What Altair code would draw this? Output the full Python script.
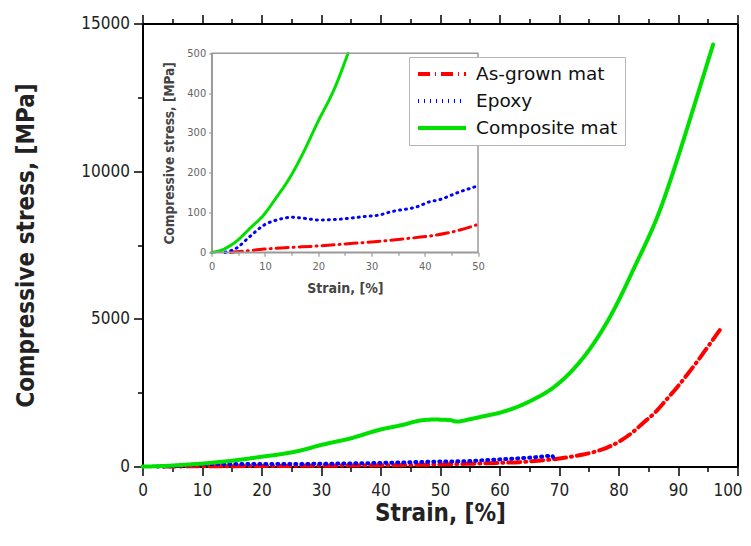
import altair as alt
import pandas as pd

FONT = "DejaVu Sans Condensed"
LFONT = "DejaVu Sans"

series_names = ["As-grown mat", "Epoxy", "Composite mat"]
series_colors = ["#ff0000", "#0000ff", "#00e000"]
series_dash = [[12, 5, 1, 5], [1, 5], [1, 0]]

asgrown_strain = [3.5, 5.3, 9.9, 14.6, 20.1, 25.1, 30.0, 36.2, 41.0, 46.6, 50.0, 54.5,
                  60.0, 63.4, 67.4, 69.0, 72.0, 74.1, 76.0, 78.0, 80.0, 82.5, 84.0,
                  86.1, 88.0, 90.0, 91.5, 93.1, 95.0, 97.3]
asgrown_stress = [0, 2, 8, 12, 16, 21, 26, 34, 41, 56, 70, 90,
                  125, 147, 214, 240, 330, 406, 500, 633, 830, 1180, 1450,
                  1820, 2250, 2720, 3100, 3520, 4050, 4700]

epoxy_strain = [2.5, 4.6, 7.1, 9.9, 12.7, 14.9, 17.6, 20.1, 23.8, 28.8, 31.6, 33.7,
                38.7, 40.9, 42.4, 46.6, 50.0, 54.5, 58.0, 61.8, 65.0, 67.9, 68.8, 69.2]
epoxy_stress = [0, 10, 39, 69, 83, 88, 85, 81, 83, 90, 94, 102,
                115, 127, 131, 152, 167, 180, 220, 260, 300, 350, 372, 200]

composite_strain = [0, 2.0, 3.0, 4.6, 7.0, 9.9, 12.0, 14.6, 17.0, 19.8, 23.2, 25.6,
                    30.4, 34.9, 40.0, 43.3, 47.2, 48.9, 51.7, 52.8, 55.0, 57.3, 60.0,
                    61.8, 65.7, 69.0, 72.4, 75.5, 79.1, 82.5, 87.0, 90.2, 93.0, 95.9]
composite_stress = [0, 6, 13, 27, 58, 96, 135, 186, 245, 324, 416, 500,
                    745, 950, 1250, 1390, 1570, 1590, 1570, 1520, 1600, 1700, 1820,
                    1930, 2270, 2665, 3290, 4070, 5260, 6670, 8700, 10600, 12400, 14290]

x_major = list(range(0, 101, 10))
x_minor = list(range(5, 100, 10))
y_major = [0, 5000, 10000, 15000]
y_minor = [2500, 7500, 12500]
inset_x_major = [0, 10, 20, 30, 40, 50]
inset_x_minor = [5, 15, 25, 35, 45]
inset_y_major = [0, 100, 200, 300, 400, 500]

rows = []
for name, xs, ys in [("As-grown mat", asgrown_strain, asgrown_stress),
                     ("Epoxy", epoxy_strain, epoxy_stress),
                     ("Composite mat", composite_strain, composite_stress)]:
    for i, (x, y) in enumerate(zip(xs, ys)):
        rows.append({"series": name, "strain": x, "stress": y, "order": i})
df = pd.DataFrame(rows)

W, H = 595, 443
xs_main = alt.Scale(domain=[0, 100], nice=False, zero=False)
ys_main = alt.Scale(domain=[0, 15000], nice=False, zero=False)

def legend():
    return alt.Legend(orient="none", legendX=266.5, legendY=33.5, title=None,
                      fillColor="white", strokeColor="#b5b5b5", padding=7,
                      labelFont=LFONT, labelFontSize=18.5, labelColor="#111",
                      symbolType="M-1,0H5", symbolStrokeWidth=4, symbolSize=256,
                      labelOffset=40, rowPadding=7, offset=0)

color = alt.Color("series:N", scale=alt.Scale(domain=series_names, range=series_colors),
                  legend=legend())
dash = alt.StrokeDash("series:N", scale=alt.Scale(domain=series_names, range=series_dash),
                      legend=legend())

base = alt.Chart(df)

L1 = base.mark_line(strokeWidth=4, strokeCap="round", interpolate="monotone").encode(
    x=alt.X("strain:Q", scale=xs_main, axis=alt.Axis(
        orient="bottom", values=x_major, tickSize=9, tickWidth=1.5, domainWidth=2,
        domainColor="black", tickColor="black", labelFont=FONT, labelFontSize=17,
        labelColor="#222", labelPadding=7, labelFlush=False, grid=False, format="d",
        labelOffset={"condition": {"test": "datum.value === 100", "value": -10}, "value": 0},
        title="Strain, [%]", titleFont=FONT, titleFontSize=24, titleFontWeight="bold",
        titleColor="#222", titlePadding=3)),
    y=alt.Y("stress:Q", scale=ys_main, axis=alt.Axis(
        orient="left", values=y_major, tickSize=9, tickWidth=1.5, domainWidth=2,
        domainColor="black", tickColor="black", labelFont=FONT, labelFontSize=17,
        labelColor="#222", labelPadding=4, labelFlush=False, grid=False, format="d",
        title="Compressive stress, [MPa]", titleFont=FONT, titleFontSize=24,
        titleFontWeight="bold", titleColor="#222", titlePadding=42)),
    color=color, strokeDash=dash, order="order:Q", detail="series:N")

def ghost(xaxis, yaxis):
    return base.mark_line(strokeOpacity=0).encode(
        x=alt.X("strain:Q", scale=xs_main, axis=xaxis),
        y=alt.Y("stress:Q", scale=ys_main, axis=yaxis),
        detail="series:N")

L2 = ghost(alt.Axis(orient="bottom", values=x_minor, tickSize=5, tickWidth=1.5, tickColor="black",
                    labels=False, domain=False, grid=False, title=None),
           alt.Axis(orient="left", values=y_minor, tickSize=5, tickWidth=1.5, tickColor="black",
                    labels=False, domain=False, grid=False, title=None))
L3 = ghost(alt.Axis(orient="top", values=x_major, tickSize=9, tickWidth=1.5, tickColor="black",
                    domainColor="black", domainWidth=2, labels=False, grid=False, title=None),
           alt.Axis(orient="right", ticks=False, domainColor="black", domainWidth=2,
                    labels=False, grid=False, title=None))
L4 = ghost(alt.Axis(orient="top", values=x_minor, tickSize=5, tickWidth=1.5, tickColor="black",
                    labels=False, domain=False, grid=False, title=None),
           alt.Axis(orient="right", values=y_minor, ticks=False, labels=False, domain=False,
                    grid=False, title=None))

main = alt.layer(L1, L2, L3, L4).resolve_axis(x="independent", y="independent")

# inset
IX0, IX1 = 69.2, 335.5
IY0, IY1 = 228.8, 29.8
xs_in = alt.Scale(domain=[0, 50], range=[IX0, IX1], nice=False, zero=False)
ys_in = alt.Scale(domain=[0, 500], range=[IY0, IY1], nice=False, zero=False)
GR = "#9a9a9a"

I1 = base.transform_filter("datum.strain <= 50 && datum.stress <= 500").mark_line(
    strokeWidth=3, strokeCap="round", interpolate="monotone").encode(
    x=alt.X("strain:Q", scale=xs_in, axis=alt.Axis(
        orient="bottom", offset=-(H - IY0), values=inset_x_major, tickSize=4, tickWidth=1.2,
        tickColor=GR, domainColor=GR, domainWidth=1.5, labelFont=FONT, labelFontSize=11,
        labelColor="#666", labelPadding=4, labelFlush=False, grid=False,
        title="Strain, [%]", titleFont=FONT, titleFontSize=14, titleFontWeight="bold",
        titleColor="#444", titlePadding=10)),
    y=alt.Y("stress:Q", scale=ys_in, axis=alt.Axis(
        orient="left", offset=-IX0, values=inset_y_major, tickSize=3, tickWidth=1.2,
        tickColor=GR, domainColor=GR, domainWidth=1.5, labelFont=FONT, labelFontSize=11,
        labelColor="#666", labelPadding=3, labelFlush=False, grid=False,
        title="Compressive stress, [MPa]", titleFont=FONT, titleFontSize=13.5,
        titleFontWeight="bold", titleColor="#444", titlePadding=10)),
    color=alt.Color("series:N", legend=None), strokeDash=alt.StrokeDash("series:N", legend=None),
    order="order:Q", detail="series:N")

frame_df = pd.DataFrame({"x0": [0], "x1": [50], "y0": [0], "y1": [500]})
I2 = alt.Chart(frame_df).mark_rect(fillOpacity=0, stroke=GR, strokeWidth=1.5).encode(
    x=alt.X("x0:Q", scale=xs_in, axis=alt.Axis(
        orient="bottom", offset=-(H - IY0), values=inset_x_minor, tickSize=3, tickWidth=1.2,
        tickColor=GR, labels=False, domain=False, grid=False, title=None)),
    x2="x1:Q",
    y=alt.Y("y0:Q", scale=ys_in, axis=None),
    y2="y1:Q")

inset = alt.layer(I1, I2).resolve_axis(x="independent", y="independent")

chart = alt.layer(main, inset).resolve_scale(
    x="independent", y="independent").properties(
    width=W, height=H,
    padding={"left": 134.5, "top": 15.5, "right": 5.5, "bottom": 70},
    autosize=alt.AutoSizeParams(type="none"),
    background="white",
).configure_view(stroke=None)

chart.save("out.html", embed_options={"renderer": "svg", "actions": False})
